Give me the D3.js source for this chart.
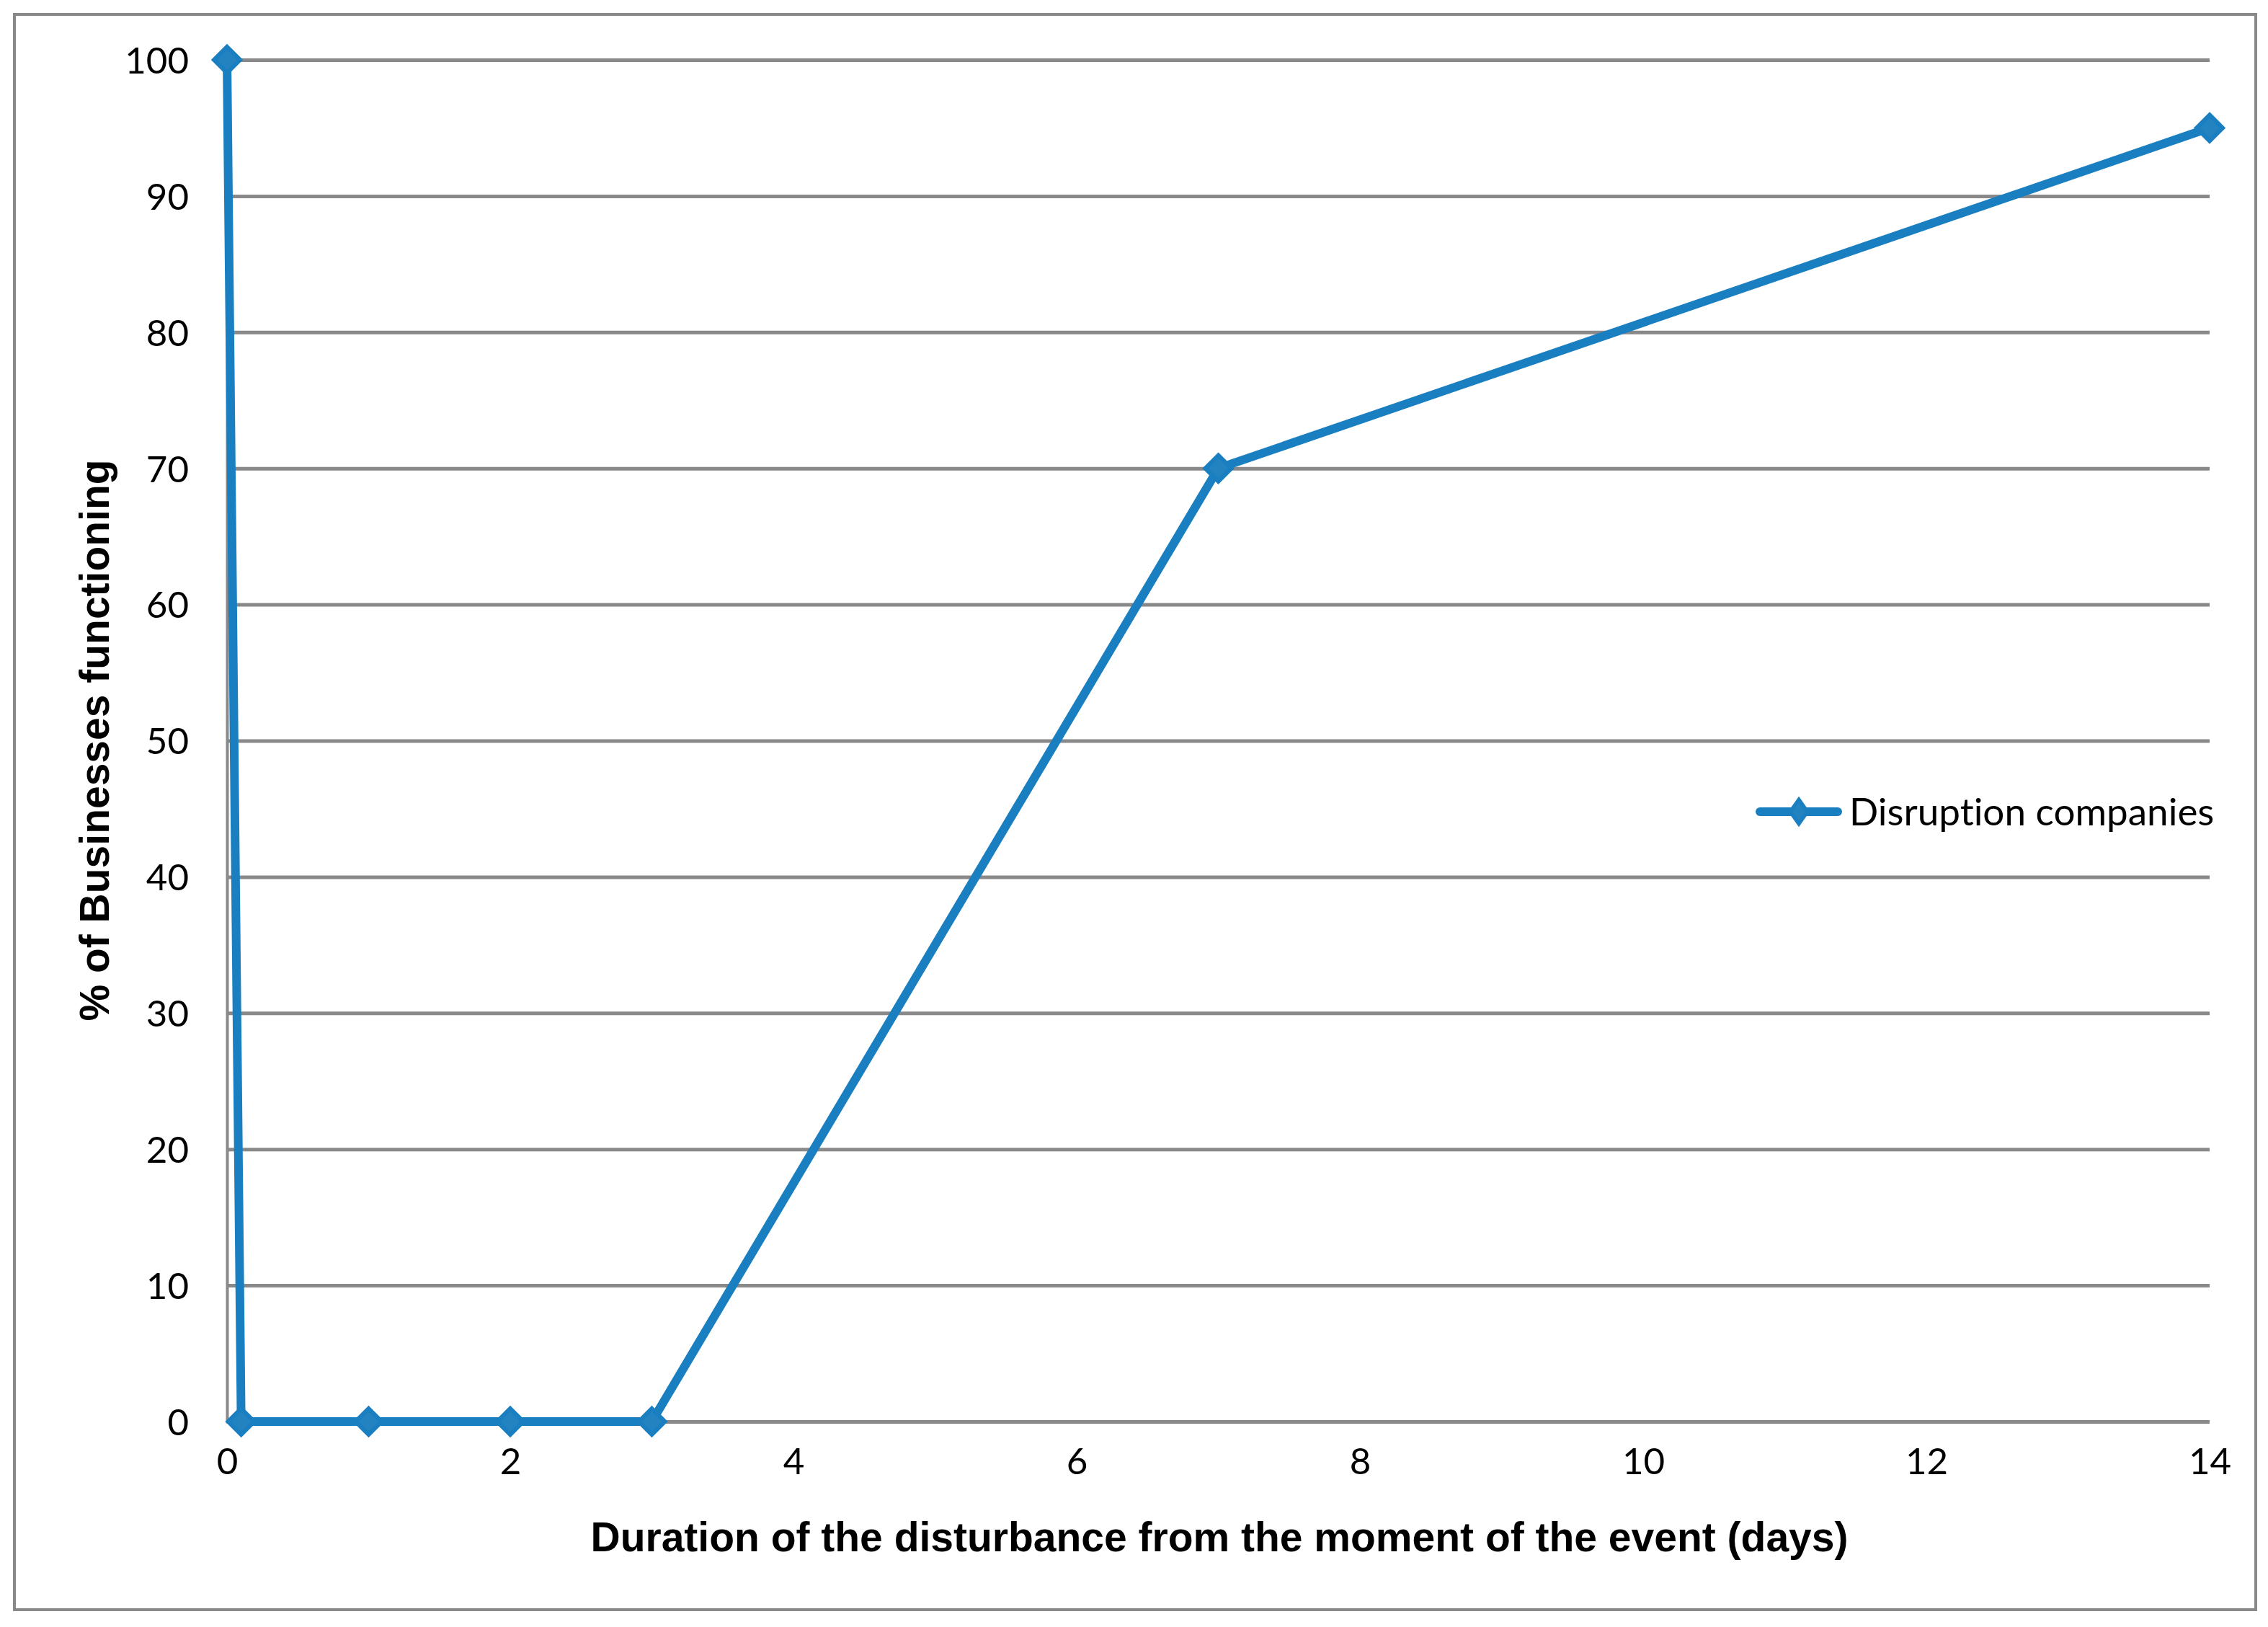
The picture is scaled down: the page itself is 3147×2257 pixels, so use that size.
<!DOCTYPE html>
<html>
<head>
<meta charset="utf-8">
<script src="https://cdn.jsdelivr.net/npm/d3@7"></script>
<style>
html,body{margin:0;padding:0;background:#fff;}
svg{display:block;}
text{font-variant-ligatures:none;font-feature-settings:"liga" 0,"clig" 0,"calt" 0,"dlig" 0;}
</style>
</head>
<body>
<script>
const days = [0, 0.1, 1, 2, 3, 7, 14];
const percentFunctioning = [100, 0, 0, 0, 0, 70, 95];
const seriesName = "Disruption companies";
const xTicks = [0, 2, 4, 6, 8, 10, 12, 14];
const yTicks = [0, 10, 20, 30, 40, 50, 60, 70, 80, 90, 100];
const xTitle = "Duration of the disturbance from the moment of the event (days)";
const yTitle = "% of Businesses functioning";

const W = 3147, H = 2257;
const gray = "#898989", blue = "#1a7fc1", blueFill = "#2382c0";
const svg = d3.select("body").append("svg").attr("width", W).attr("height", H);
svg.append("rect").attr("width", W).attr("height", H).attr("fill", "#fff");

svg.append("rect").attr("x", 20).attr("y", 20).attr("width", 3110).attr("height", 2213)
  .attr("fill", "none").attr("stroke", gray).attr("stroke-width", 4);

const x = d3.scaleLinear().domain([0, 14]).range([315, 3066]);
const y = d3.scaleLinear().domain([0, 100]).range([1972, 83]);

// gridlines + y axis
const yAxis = d3.axisLeft(y).tickValues(yTicks).tickSize(-(x.range()[1] - x.range()[0])).tickPadding(53).tickFormat(d3.format("d"));
const gy = svg.append("g").attr("transform", `translate(${x(0)},0)`).call(yAxis);
gy.select(".domain").attr("stroke", gray).attr("stroke-width", 4);
gy.selectAll(".tick line").attr("stroke", gray).attr("stroke-width", 5);
gy.selectAll(".tick text").attr("font-family", "Lato, 'Open Sans', sans-serif").attr("font-size", 51).attr("fill", "#000").attr("dy", "0.36em");

const xAxis = d3.axisBottom(x).tickValues(xTicks).tickSize(0).tickPadding(55).tickFormat(d3.format("d"));
const gx = svg.append("g").attr("transform", `translate(0,${y(0)})`).call(xAxis);
gx.select(".domain").remove();
gx.selectAll(".tick text").attr("font-family", "Lato, 'Open Sans', sans-serif").attr("font-size", 51).attr("fill", "#000").attr("dy", "0.36em");

// axis titles
svg.append("text").attr("x", 1692).attr("y", 2131).attr("dy", "0.36em")
  .attr("text-anchor", "middle").attr("font-family", "'Liberation Sans', Arial, sans-serif")
  .attr("font-weight", "bold").attr("font-size", 57).attr("fill", "#000").text(xTitle);
svg.append("text").attr("transform", "translate(130,1027) rotate(-90)").attr("dy", "0.36em")
  .attr("text-anchor", "middle").attr("font-family", "'Liberation Sans', Arial, sans-serif")
  .attr("font-weight", "bold").attr("font-size", 57).attr("fill", "#000").text(yTitle);

// series
const data = days.map((d, i) => ({x: d, y: percentFunctioning[i]}));
svg.append("path").datum(data)
  .attr("d", d3.line().x(d => x(d.x)).y(d => y(d.y)))
  .attr("fill", "none").attr("stroke", blue).attr("stroke-width", 12).attr("stroke-linejoin", "round");

const diamond = (r) => `M0,${-r}L${r},0L0,${r}L${-r},0Z`;
svg.append("g").selectAll("path").data(data).join("path")
  .attr("transform", d => `translate(${x(d.x)},${y(d.y)})`)
  .attr("d", diamond(18))
  .attr("fill", blueFill).attr("stroke", blue).attr("stroke-width", 6).attr("stroke-linejoin", "miter");

// legend
const lg = svg.append("g").attr("transform", "translate(0,1126)");
lg.append("line").attr("x1", 2442).attr("x2", 2550).attr("y1", 0).attr("y2", 0)
  .attr("stroke", blue).attr("stroke-width", 12).attr("stroke-linecap", "round");
lg.append("path").attr("transform", "translate(2496,0)")
  .attr("d", "M0,-17L12,0L0,17L-12,0Z")
  .attr("fill", blueFill).attr("stroke", blue).attr("stroke-width", 5);
lg.append("text").attr("x", 2566).attr("y", 0).attr("dy", "0.36em")
  .style("font-variant-ligatures", "none")
  .style("font-feature-settings", "\"liga\" 0, \"clig\" 0, \"calt\" 0, \"dlig\" 0")
  .attr("font-family", "Lato, 'Open Sans', sans-serif").attr("font-size", 53).attr("fill", "#000").text(seriesName);
</script>
</body>
</html>
